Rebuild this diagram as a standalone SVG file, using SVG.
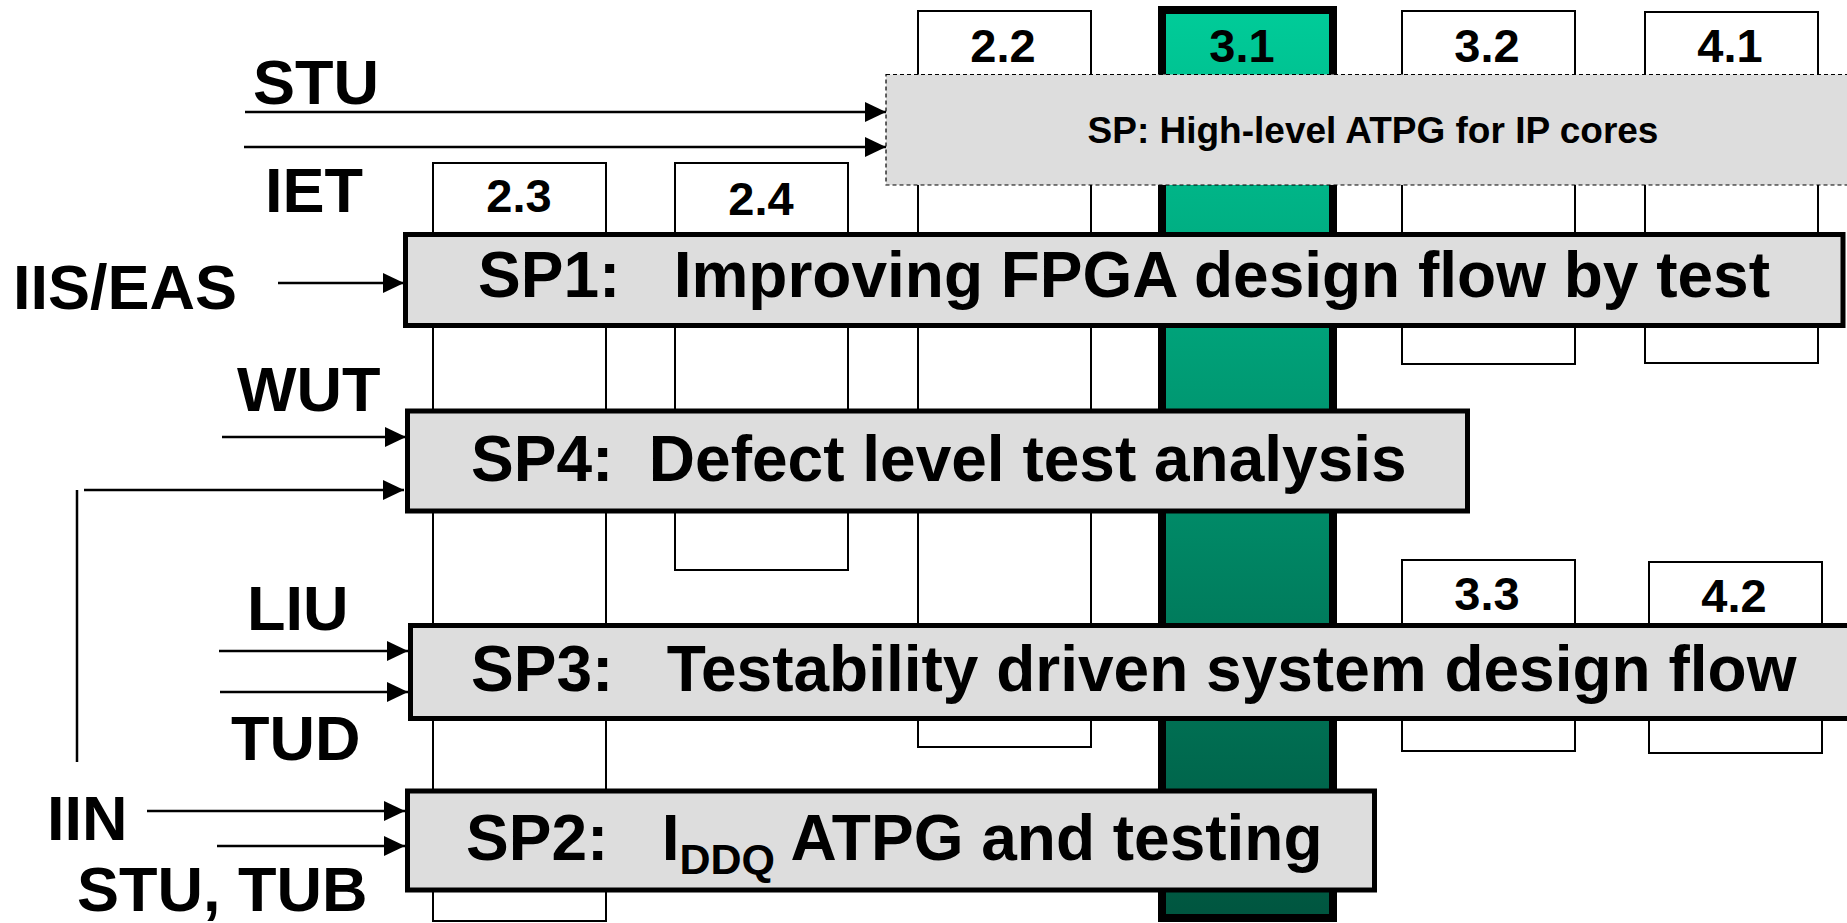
<svg xmlns="http://www.w3.org/2000/svg" width="1847" height="923" viewBox="0 0 1847 923">
  <style>
    .col { fill: #ffffff; stroke: #000000; stroke-width: 2; }
    .sp { fill: #dddddd; stroke: #000000; stroke-width: 5; }
    .num { font-family: "Liberation Sans", Arial, sans-serif; font-weight: bold; font-size: 47px; fill: #000000; text-anchor: middle; }
    .lbl { font-family: "Liberation Sans", Arial, sans-serif; font-weight: bold; font-size: 63px; fill: #000000; }
    .title { font-family: "Liberation Sans", Arial, sans-serif; font-weight: bold; font-size: 64px; fill: #000000; white-space: pre; }
    .arrow { stroke: #000000; stroke-width: 2.5; fill: none; marker-end: url(#head); }
  </style>
  <defs>
    <linearGradient id="teal" x1="0" y1="0" x2="0" y2="1">
      <stop offset="0" stop-color="#00cc99"/>
      <stop offset="1" stop-color="#00553f"/>
    </linearGradient>
    <marker id="head" markerUnits="userSpaceOnUse" markerWidth="21" markerHeight="20" refX="21" refY="10" orient="auto">
      <path d="M0,0 L21,10 L0,20 Z" fill="#000000"/>
    </marker>
  </defs>

  <!-- work-package columns -->
  <g id="wp-2-3"><rect class="col" x="433" y="163" width="173" height="758"/><text class="num" x="519" y="212">2.3</text></g>
  <g id="wp-2-4"><rect class="col" x="675" y="163" width="173" height="407"/><text class="num" x="761" y="215">2.4</text></g>
  <g id="wp-2-2"><rect class="col" x="918" y="11" width="173" height="736"/><text class="num" x="1003" y="62">2.2</text></g>
  <g id="wp-3-1"><rect x="1162" y="10" width="171" height="908" fill="url(#teal)" stroke="#000000" stroke-width="8"/><text class="num" x="1242" y="62">3.1</text></g>
  <g id="wp-3-2"><rect class="col" x="1402" y="11" width="173" height="353"/><text class="num" x="1487" y="62">3.2</text></g>
  <g id="wp-4-1"><rect class="col" x="1645" y="12" width="173" height="351"/><text class="num" x="1730" y="62">4.1</text></g>
  <g id="wp-3-3"><rect class="col" x="1402" y="560" width="173" height="191"/><text class="num" x="1487" y="610">3.3</text></g>
  <g id="wp-4-2"><rect class="col" x="1649" y="562" width="173" height="191"/><text class="num" x="1734" y="612">4.2</text></g>

  <!-- dashed sub-project band -->
  <g id="sp-ip">
    <rect x="886" y="74.5" width="1000" height="110.5" fill="#dddddd" stroke="#000000" stroke-width="1.2" stroke-dasharray="4 3"/>
    <text x="1373" y="143" font-family="Liberation Sans, Arial, sans-serif" font-weight="bold" font-size="37" text-anchor="middle">SP: High-level ATPG for IP cores</text>
  </g>

  <!-- sub-project bars -->
  <g id="sp1"><rect class="sp" x="405.5" y="234.5" width="1437.5" height="91"/><text class="title" x="478" y="297">SP1:   Improving FPGA design flow by test</text></g>
  <g id="sp4"><rect class="sp" x="407.5" y="411" width="1060" height="100"/><text class="title" x="471" y="481">SP4:  Defect level test analysis</text></g>
  <g id="sp3"><rect class="sp" x="410.5" y="625.5" width="1500" height="93"/><text class="title" x="471" y="691">SP3:   Testability driven system design flow</text></g>
  <g id="sp2"><rect class="sp" x="407.5" y="791" width="967" height="99"/><text class="title" x="466" y="860">SP2:   I<tspan font-size="43" dy="14">DDQ</tspan><tspan dy="-14"> ATPG and testing</tspan></text></g>

  <!-- partner labels -->
  <g id="partners">
    <text class="lbl" x="253" y="104">STU</text>
    <text class="lbl" x="265" y="212">IET</text>
    <text class="lbl" x="13" y="309">IIS/EAS</text>
    <text class="lbl" x="237" y="411">WUT</text>
    <text class="lbl" x="247" y="630">LIU</text>
    <text class="lbl" x="231" y="760">TUD</text>
    <text class="lbl" x="47" y="840">IIN</text>
    <text class="lbl" x="77" y="911">STU, TUB</text>
  </g>

  <!-- connectors -->
  <g id="connectors">
    <line class="arrow" x1="245" y1="112" x2="886" y2="112"/>
    <line class="arrow" x1="244" y1="147" x2="886" y2="147"/>
    <line class="arrow" x1="278" y1="283" x2="404" y2="283"/>
    <line class="arrow" x1="222" y1="437" x2="406" y2="437"/>
    <line x1="77" y1="490" x2="77" y2="762" stroke="#000000" stroke-width="2.5"/>
    <line class="arrow" x1="84" y1="490" x2="404" y2="490"/>
    <line class="arrow" x1="219" y1="651" x2="408" y2="651"/>
    <line class="arrow" x1="220" y1="692" x2="408" y2="692"/>
    <line class="arrow" x1="147" y1="811" x2="405" y2="811"/>
    <line class="arrow" x1="217" y1="846" x2="405" y2="846"/>
  </g>
</svg>
